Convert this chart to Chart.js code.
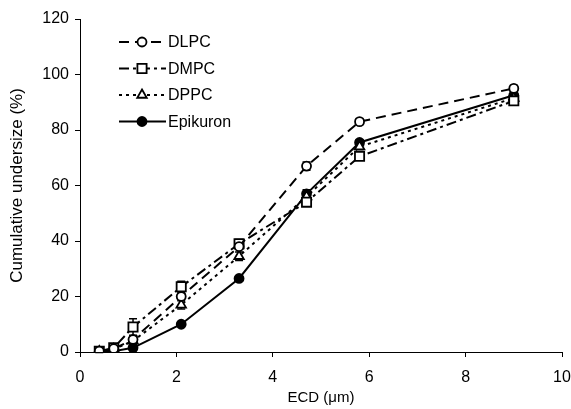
<!DOCTYPE html>
<html>
<head>
<meta charset="utf-8">
<script src="https://cdn.jsdelivr.net/npm/chart.js@4"></script>
<style>
  html, body { margin: 0; padding: 0; background: #fff; }
  #wrap { width: 571px; height: 409px; }
</style>
</head>
<body>
<div id="wrap"><canvas id="sizeChart" width="571" height="409"></canvas></div>
<script>
// ECD values (um) and cumulative undersize (%)
const ecd = [0.4, 0.7, 1.1, 2.1, 3.3, 4.7, 5.8, 9.0];
const dlpc = [0.3, 1.2, 4.5, 20, 38, 67, 83, 95];
const dmpc = [0.3, 1.5, 9, 23.5, 39, 54, 70.5, 90.5];
const dppc = [0.2, 1, 4, 17, 34.5, 56, 74, 91.5];
const epikuron = [0.2, 0.3, 1.5, 10, 26.5, 57, 75.5, 92.5];

// error bar half-heights
const dlpcErr = [0, 0, 0, 1, 1, 1.5, 1, 1];
const dmpcErr = [0.5, 1, 3, 2, 1.5, 1, 1, 1];
const dppcErr = [0, 0, 1, 1.5, 1.5, 1, 1, 1];
const epikuronErr = [0, 0, 0, 0.5, 0.5, 1.5, 1, 1];

const xTicks = [0, 2, 4, 6, 8, 10];
const yTicks = [0, 20, 40, 60, 80, 100, 120];

const FONT = 'Arial, "Liberation Sans", sans-serif';

function pts(ys) {
  return ecd.map((x, i) => ({ x: x, y: ys[i] }));
}

function series(label, ys, err, dash, style, radius, fill) {
  return {
    label: label,
    data: pts(ys),
    err: err,
    borderColor: '#000',
    borderWidth: 2,
    borderDash: dash,
    pointStyle: style,
    pointRadius: radius,
    pointHoverRadius: radius,
    pointBackgroundColor: fill,
    pointBorderColor: '#000',
    pointBorderWidth: 1.8,
    tension: 0,
    fill: false
  };
}

// draws marker the same way for the legend
function marker(ctx, style, r, fill, x, y) {
  ctx.save();
  ctx.setLineDash([]);
  ctx.lineWidth = 1.8;
  ctx.strokeStyle = '#000';
  ctx.fillStyle = fill;
  ctx.beginPath();
  if (style === 'circle') {
    ctx.arc(x, y, r, 0, Math.PI * 2);
  } else if (style === 'rect') {
    const s = Math.SQRT1_2 * r;
    ctx.rect(x - s, y - s, 2 * s, 2 * s);
  } else if (style === 'triangle') {
    ctx.moveTo(x, y - r);
    ctx.lineTo(x + r * 0.866, y + r * 0.5);
    ctx.lineTo(x - r * 0.866, y + r * 0.5);
    ctx.closePath();
  }
  ctx.fill();
  ctx.stroke();
  ctx.restore();
}

const errorBars = {
  id: 'errorBars',
  beforeDatasetsDraw(chart) {
    const ctx = chart.ctx;
    const xs = chart.scales.x, ys = chart.scales.y;
    ctx.save();
    ctx.strokeStyle = '#000';
    ctx.lineWidth = 1.5;
    chart.data.datasets.forEach(ds => {
      ds.data.forEach((p, j) => {
        const e = ds.err[j];
        if (!e) return;
        const px = xs.getPixelForValue(p.x);
        const top = ys.getPixelForValue(p.y + e);
        const bot = ys.getPixelForValue(p.y - e);
        ctx.beginPath();
        ctx.moveTo(px, top); ctx.lineTo(px, bot);
        ctx.moveTo(px - 4, top); ctx.lineTo(px + 4, top);
        ctx.moveTo(px - 4, bot); ctx.lineTo(px + 4, bot);
        ctx.stroke();
      });
    });
    ctx.restore();
  }
};

const insideLegend = {
  id: 'insideLegend',
  afterDraw(chart) {
    const ctx = chart.ctx;
    ctx.save();
    chart.data.datasets.forEach((ds, i) => {
      const y = 42 + i * 26.5;
      ctx.strokeStyle = '#000';
      ctx.lineWidth = 2;
      ctx.setLineDash(ds.borderDash);
      ctx.beginPath();
      ctx.moveTo(119, y);
      ctx.lineTo(166, y);
      ctx.stroke();
      marker(ctx, ds.pointStyle, ds.pointRadius, ds.pointBackgroundColor, 142, y);
      ctx.fillStyle = '#000';
      ctx.font = '16px ' + FONT;
      ctx.textBaseline = 'middle';
      ctx.fillText(ds.label, 168, y + 1);
    });
    ctx.restore();
  }
};

new Chart(document.getElementById('sizeChart'), {
  type: 'line',
  data: {
    datasets: [
      series('DLPC', dlpc, dlpcErr, [10, 6], 'circle', 4.5, '#fff'),
      series('DMPC', dmpc, dmpcErr, [10, 4, 3, 4], 'rect', 6.5, '#fff'),
      series('DPPC', dppc, dppcErr, [3, 4], 'triangle', 5.5, '#fff'),
      series('Epikuron', epikuron, epikuronErr, [], 'circle', 4.5, '#000')
    ]
  },
  options: {
    responsive: false,
    animation: false,
    layout: { padding: { top: 19, right: 0, left: 0, bottom: 0 } },
    plugins: {
      legend: { display: false },
      tooltip: { enabled: false }
    },
    scales: {
      x: {
        type: 'linear',
        min: 0,
        max: 10,
        afterBuildTicks: s => { s.ticks = xTicks.map(v => ({ value: v })); },
        afterFit: s => { s.height = 57; s.paddingLeft = 0; s.paddingRight = 9; },
        grid: { drawOnChartArea: false, tickLength: 5, color: '#000' },
        border: { color: '#000', width: 1 },
        ticks: { color: '#000', font: { family: FONT, size: 16 }, padding: 11, maxRotation: 0 },
        title: { display: true, text: 'ECD (\u03bcm)', color: '#000', font: { family: FONT, size: 15 }, padding: { top: 0, bottom: 2 } }
      },
      y: {
        min: 0,
        max: 120,
        afterBuildTicks: s => { s.ticks = yTicks.map(v => ({ value: v })); },
        afterFit: s => { s.width = 80; },
        grid: { drawOnChartArea: false, tickLength: 5, color: '#000' },
        border: { color: '#000', width: 1 },
        ticks: { color: '#000', font: { family: FONT, size: 16 }, padding: 6 },
        title: { display: true, text: 'Cumulative undersize (%)', color: '#000', font: { family: FONT, size: 17 }, padding: { top: 7, bottom: 0 } }
      }
    }
  },
  plugins: [errorBars, insideLegend]
});
</script>
</body>
</html>
